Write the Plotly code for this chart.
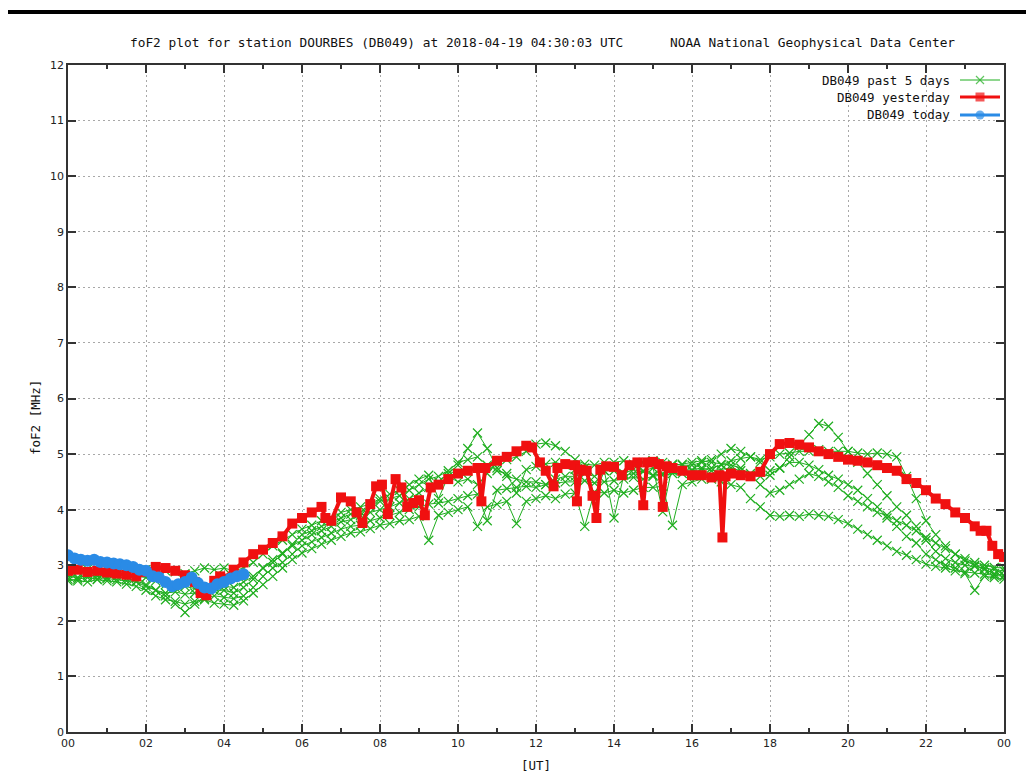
import plotly.graph_objects as go

# ---------------- data ----------------
TICK_HOURS = [0, 2, 4, 6, 8, 10, 12, 14, 16, 18, 20, 22, 24]
TICK_LABELS = ["00", "02", "04", "06", "08", "10", "12", "14", "16", "18", "20", "22", "00"]

# yesterday (hours UT, foF2 MHz)
RED_T = [0.00, 0.25, 0.50, 0.75, 1.00, 1.25, 1.50, 1.75, 2.00, 2.25, 2.50, 2.75, 3.00, 3.25, 3.40, 3.55,
         3.75, 3.90, 4.00, 4.25, 4.50, 4.75, 5.00, 5.25, 5.50, 5.75, 6.00, 6.25, 6.50, 6.60, 6.75, 7.00,
         7.25, 7.40, 7.55, 7.75, 7.90, 8.05, 8.20, 8.40, 8.55, 8.70, 8.85, 9.00, 9.15, 9.30, 9.50, 9.75,
         10.00, 10.25, 10.50, 10.60, 10.70, 11.00, 11.25, 11.50, 11.75, 11.90, 12.10, 12.25, 12.45, 12.55,
         12.75, 13.00, 13.05, 13.15, 13.30, 13.45, 13.55, 13.65, 13.80, 14.00, 14.20, 14.40, 14.60, 14.75,
         14.85, 15.00, 15.15, 15.25, 15.35, 15.50, 15.75, 16.00, 16.25, 16.50, 16.70, 16.78, 16.86, 17.00,
         17.25, 17.50, 17.75, 18.00, 18.25, 18.50, 18.75, 19.00, 19.25, 19.50, 19.75, 20.00, 20.25, 20.50,
         20.75, 21.00, 21.25, 21.50, 21.75, 22.00, 22.25, 22.50, 22.75, 23.00, 23.25, 23.40, 23.55, 23.70,
         23.85, 24.00]
RED_V = [2.90, 2.92, 2.88, 2.90, 2.87, 2.85, 2.83, 2.80, 2.88, 2.97, 2.95, 2.90, 2.82, 2.70, 2.50, 2.46,
         2.72, 2.80, 2.76, 2.92, 3.05, 3.20, 3.28, 3.40, 3.52, 3.75, 3.85, 3.95, 4.05, 3.85, 3.80, 4.22,
         4.15, 3.95, 3.76, 4.10, 4.42, 4.45, 3.92, 4.55, 4.40, 4.05, 4.12, 4.17, 3.90, 4.40, 4.45, 4.55,
         4.65, 4.70, 4.75, 4.15, 4.75, 4.88, 4.95, 5.05, 5.15, 5.12, 4.85, 4.70, 4.42, 4.75,
         4.82, 4.80, 4.15, 4.72, 4.70, 4.25, 3.85, 4.72, 4.78, 4.77, 4.62, 4.80, 4.85, 4.08,
         4.85, 4.86, 4.82, 4.05, 4.78, 4.75, 4.70, 4.62, 4.62, 4.58, 4.62, 3.50, 4.60, 4.65,
         4.62, 4.60, 4.68, 5.00, 5.18, 5.20, 5.17, 5.12, 5.05, 5.00, 4.95, 4.90, 4.88, 4.85,
         4.80, 4.75, 4.70, 4.55, 4.48, 4.35, 4.20, 4.10, 3.95, 3.85, 3.70, 3.62, 3.62, 3.35,
         3.20, 3.15]

# today
BLUE_T = [0.00, 0.17, 0.33, 0.50, 0.67, 0.83, 1.00, 1.17, 1.33, 1.50, 1.67, 1.83, 2.00, 2.17,
          2.33, 2.50, 2.67, 2.83, 3.00, 3.17, 3.33, 3.50, 3.67, 3.83, 4.00, 4.17, 4.33, 4.50]
BLUE_V = [3.18, 3.12, 3.10, 3.08, 3.10, 3.06, 3.05, 3.03, 3.02, 3.00, 2.97, 2.92, 2.90, 2.80,
          2.78, 2.70, 2.62, 2.66, 2.70, 2.78, 2.68, 2.60, 2.58, 2.66, 2.70, 2.76, 2.80, 2.84]

# past 5 days, sampled every 15 minutes from 00:00 to 24:00
GREEN_STEP_MIN = 15
DAY1 = [2.75, 2.72, 2.70, 2.74, 2.72, 2.70, 2.66, 2.62, 2.55, 2.45, 2.38, 2.35, 2.30, 2.35, 2.38, 2.32,
        2.30, 2.28, 2.36, 2.50, 2.65, 2.80, 2.95, 3.10, 3.22, 3.30, 3.38, 3.45, 3.52, 3.58, 3.60, 3.66,
        3.72, 3.75, 3.80, 3.82, 3.88, 3.45, 3.90, 3.95, 4.00, 4.05, 3.70, 4.05, 4.10, 4.15, 3.75, 4.15,
        4.20, 4.25, 4.20, 4.28, 4.30, 3.70, 4.32, 4.30, 4.35, 4.30, 4.35, 4.40, 4.40, 4.42, 3.72, 4.45,
        4.50, 4.55, 4.55, 4.50, 4.45, 4.40, 4.20, 4.05, 3.90, 3.88, 3.90, 3.88, 3.92, 3.90, 3.88, 3.82,
        3.75, 3.65, 3.55, 3.45, 3.35, 3.25, 3.18, 3.10, 3.02, 2.98, 2.95, 2.90, 2.88, 2.86, 2.84, 2.82,
        2.80]
DAY2 = [2.85, 2.88, 2.86, 2.84, 2.86, 2.85, 2.82, 2.80, 2.78, 2.72, 2.65, 2.60, 2.62, 2.58, 2.55, 2.60,
        2.62, 2.60, 2.70, 2.80, 2.95, 3.10, 3.22, 3.35, 3.45, 3.55, 3.62, 3.70, 3.78, 3.82, 3.90, 3.95,
        4.00, 4.05, 4.12, 4.20, 4.30, 4.40, 4.50, 4.65, 4.80, 5.10, 5.38, 5.10, 4.75, 4.60, 4.55, 4.50,
        4.50, 4.45, 4.55, 4.60, 4.60, 4.65, 4.60, 4.70, 4.70, 4.65, 4.72, 4.68, 4.62, 4.65, 4.70, 4.70,
        4.72, 4.75, 4.70, 4.72, 4.75, 4.70, 4.65, 4.60, 4.62, 4.75, 4.95, 5.15, 5.35, 5.55, 5.50, 5.30,
        5.05, 4.85, 4.65, 4.45, 4.25, 4.05, 3.90, 3.70, 3.45, 3.25, 3.12, 3.05, 3.00, 2.98, 2.95, 2.92,
        2.90]
DAY3 = [2.92, 2.95, 2.93, 2.90, 2.92, 2.90, 2.88, 2.90, 2.92, 2.95, 2.90, 2.88, 2.85, 2.90, 2.95, 2.92,
        2.95, 2.90, 2.95, 3.05, 3.20, 3.35, 3.45, 3.55, 3.65, 3.72, 3.80, 3.85, 3.95, 4.00, 4.05, 4.10,
        4.20, 4.28, 4.35, 4.45, 4.55, 4.62, 4.20, 4.60, 4.50, 4.55, 4.45, 4.65, 4.85, 4.90, 4.95, 5.05,
        5.18, 5.20, 5.15, 5.05, 4.90, 4.82, 4.80, 4.85, 4.85, 4.88, 4.82, 4.85, 4.88, 4.85, 4.82, 4.80,
        4.80, 4.85, 4.90, 5.00, 5.10, 5.05, 4.95, 4.90, 4.95, 5.00, 5.02, 5.05, 5.05, 5.08, 5.05, 5.05,
        5.05, 5.02, 5.00, 5.02, 5.00, 4.95, 4.60, 4.20, 3.80, 3.55, 3.35, 3.20, 3.08, 3.00, 2.92, 2.85,
        2.82]
DAY4 = [2.80, 2.78, 2.82, 2.80, 2.78, 2.80, 2.76, 2.72, 2.65, 2.55, 2.45, 2.30, 2.15, 2.30, 2.40, 2.45,
        2.42, 2.40, 2.45, 2.60, 2.80, 2.95, 3.05, 3.20, 3.35, 3.42, 3.50, 3.58, 3.65, 3.70, 3.72, 3.80,
        3.85, 3.90, 3.95, 4.00, 4.05, 4.10, 4.12, 4.15, 4.20, 4.25, 4.28, 3.80, 4.35, 4.38, 4.40, 4.42,
        4.40, 4.45, 4.48, 4.50, 4.50, 4.52, 4.48, 4.50, 4.52, 4.55, 4.58, 4.55, 4.60, 4.62, 4.65, 4.65,
        4.70, 4.72, 4.75, 4.80, 4.88, 4.92, 4.95, 4.85, 4.70, 4.75, 4.85, 4.85, 4.80, 4.72, 4.62, 4.55,
        4.45, 4.35, 4.20, 4.05, 3.85, 3.70, 3.52, 3.40, 3.20, 3.10, 3.00, 2.95, 2.85, 2.55, 2.80, 2.78,
        2.75]
DAY5 = [2.72, 2.75, 2.78, 2.75, 2.76, 2.74, 2.72, 2.70, 2.62, 2.55, 2.50, 2.52, 2.48, 2.50, 2.45, 2.55,
        2.55, 2.50, 2.60, 2.75, 2.95, 3.05, 3.20, 3.38, 3.55, 3.62, 3.70, 3.78, 3.85, 3.92, 3.95, 4.05,
        4.15, 4.20, 4.25, 4.35, 4.45, 4.55, 4.60, 4.70, 4.85, 4.90, 4.95, 4.80, 4.70, 4.65, 4.30, 4.72,
        4.78, 4.82, 4.85, 4.80, 4.72, 4.75, 4.25, 4.70, 3.85, 4.62, 4.65, 4.70, 4.75, 3.96, 4.80, 4.82,
        4.85, 4.88, 4.85, 4.82, 4.80, 4.75, 4.62, 4.45, 4.30, 4.35, 4.45, 4.55, 4.65, 4.60, 4.50, 4.40,
        4.25, 4.15, 4.05, 3.95, 3.90, 3.80, 3.72, 3.62, 3.50, 3.40, 3.30, 3.20, 3.12, 3.05, 3.00, 2.96,
        2.95]
PAST_DAYS = [DAY1, DAY2, DAY3, DAY4, DAY5]

TITLE_LEFT = "foF2 plot for station DOURBES (DB049) at 2018-04-19 04:30:03 UTC"
TITLE_RIGHT = "NOAA National Geophysical Data Center"
LEGEND_NAMES = ["DB049 past 5 days", "DB049 yesterday", "DB049 today"]

# ---------------- styling / layout ----------------
PAGE_W, PAGE_H = 1034, 781
OFF = 8                      # default page body margin
W, H = PAGE_W - 2 * OFF, PAGE_H - 2 * OFF
PX_L, PX_R, PX_T, PX_B = 68, 1004, 65, 732   # plot box in page pixels


def px(x):
    return (x - OFF) / W


def py(y):
    return 1 - (y - OFF) / H


GREEN = "#1fae1f"
RED = "#f01010"
BLUE = "#2a8be6"
MONO = "DejaVu Sans Mono"
SANS = "DejaVu Sans"

fig = go.Figure()

for day in PAST_DAYS:
    t = [i * GREEN_STEP_MIN / 60 for i in range(len(day))]
    fig.add_trace(go.Scatter(
        x=t, y=day, mode="lines+markers", showlegend=False,
        line=dict(color=GREEN, width=1),
        marker=dict(symbol="x-thin", size=9, line=dict(color=GREEN, width=1.2)),
    ))

fig.add_trace(go.Scatter(
    x=RED_T, y=RED_V, mode="lines+markers", showlegend=False,
    line=dict(color=RED, width=4),
    marker=dict(symbol="square", size=10, color=RED),
))
fig.add_trace(go.Scatter(
    x=BLUE_T, y=BLUE_V, mode="lines+markers", showlegend=False,
    line=dict(color=BLUE, width=7),
    marker=dict(symbol="circle", size=12, color=BLUE),
))

# custom legend (text first, sample on the right like gnuplot)
LEG_ROWS_Y = [80, 97, 115]
LEG_STYLES = [
    dict(color=GREEN, width=1, symbol="x-thin", size=8, mline=dict(color=GREEN, width=1.2)),
    dict(color=RED, width=3, symbol="square", size=9, mline=dict(width=0)),
    dict(color=BLUE, width=3, symbol="circle", size=9, mline=dict(width=0)),
]
annotations = []
shapes = []
for name, yy, st in zip(LEGEND_NAMES, LEG_ROWS_Y, LEG_STYLES):
    annotations.append(dict(text=name, x=px(952), y=py(yy), xref="paper", yref="paper",
                            xanchor="right", yanchor="middle", showarrow=False,
                            font=dict(family=MONO, size=12.5, color="#111")))
    fig.add_trace(go.Scatter(
        x=[960 - OFF, 980 - OFF, 1000 - OFF], y=[yy - OFF] * 3, xaxis="x2", yaxis="y2",
        mode="lines+markers", showlegend=False, hoverinfo="skip",
        line=dict(color=st["color"], width=st["width"]),
        marker=dict(symbol=st["symbol"], size=[0, st["size"], 0], color=st["color"], line=st["mline"]),
    ))

annotations += [
    dict(text=TITLE_LEFT, x=px(128), y=py(43), xref="paper", yref="paper", xanchor="left",
         yanchor="middle", showarrow=False, font=dict(family=MONO, size=12.8, color="#111")),
    dict(text=TITLE_RIGHT, x=px(668), y=py(43), xref="paper", yref="paper", xanchor="left",
         yanchor="middle", showarrow=False, font=dict(family=MONO, size=12.8, color="#111")),
    dict(text="[UT]", x=px((PX_L + PX_R) / 2), y=py(765), xref="paper", yref="paper",
         xanchor="center", yanchor="middle", showarrow=False, font=dict(family=MONO, size=12.5, color="#111")),
    dict(text="foF2 [MHz]", x=px(35), y=py(418), xref="paper", yref="paper", textangle=-90,
         xanchor="center", yanchor="middle", showarrow=False, font=dict(family=MONO, size=12.5, color="#111")),
]
shapes.append(dict(type="rect", xref="paper", yref="paper", x0=0, x1=1, y0=py(14), y1=py(10),
                   fillcolor="#000", line=dict(width=0)))

axis_common = dict(showline=True, linecolor="#333", linewidth=1.5, mirror="ticks", ticks="inside",
                   tickcolor="#333", tickwidth=1.5, ticklen=8, showgrid=True, gridcolor="#a8a8a8",
                   griddash="2px,3px", gridwidth=1, zeroline=False, automargin=False,
                   tickfont=dict(family=SANS, size=11, color="#222"))

fig.update_layout(
    width=W, height=H, margin=dict(l=0, r=0, t=0, b=0, pad=0), autosize=False,
    paper_bgcolor="white", plot_bgcolor="rgba(0,0,0,0)",
    xaxis=dict(domain=[px(PX_L), px(PX_R)], range=[0, 24], tickvals=TICK_HOURS, ticktext=TICK_LABELS,
               minor=dict(dtick=1, ticks="inside", ticklen=4, tickcolor="#333", showgrid=False),
               **axis_common),
    yaxis=dict(domain=[py(PX_B), py(PX_T)], range=[0, 12], dtick=1, **axis_common),
    xaxis2=dict(domain=[0, 1], range=[0, W], anchor="y2", visible=False, fixedrange=True, automargin=False),
    yaxis2=dict(domain=[0, 1], range=[H, 0], anchor="x2", visible=False, fixedrange=True, automargin=False),
    annotations=annotations, shapes=shapes,
)

fig.write_html("out.html", config={"responsive": False, "displayModeBar": False})
